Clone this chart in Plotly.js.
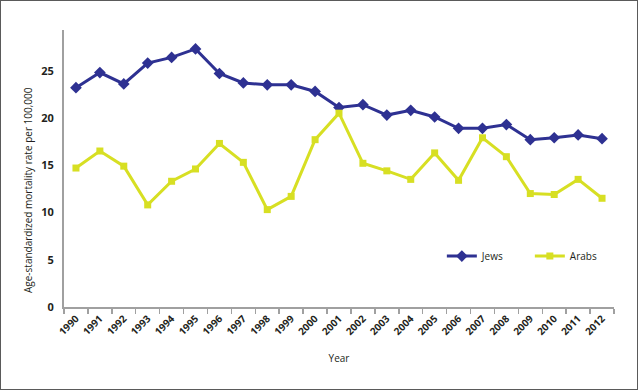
<!DOCTYPE html>
<html>
<head>
<meta charset="utf-8">
<script src="https://cdn.plot.ly/plotly-3.0.1.min.js"></script>
<style>
html,body{margin:0;padding:0;background:#fff;}
#wrap{width:638px;height:390px;box-sizing:border-box;border:1px solid #5a5a5a;position:relative;overflow:hidden;}
#chart{position:absolute;left:-1px;top:-1px;width:638px;height:390px;}
</style>
</head>
<body>
<div id="wrap"><div id="chart"></div></div>
<script>
const years = ['1990','1991','1992','1993','1994','1995','1996','1997','1998','1999','2000','2001','2002','2003','2004','2005','2006','2007','2008','2009','2010','2011','2012'];
const jews = [23.2,24.8,23.6,25.8,26.4,27.3,24.7,23.7,23.5,23.5,22.8,21.1,21.4,20.3,20.8,20.1,18.9,18.9,19.3,17.7,17.9,18.2,17.8];
const arabs = [14.7,16.5,14.9,10.8,13.3,14.6,17.3,15.3,10.3,11.7,17.7,20.5,15.2,14.4,13.5,16.3,13.4,17.9,15.9,12.0,11.9,13.5,11.5];
const yTicks = [0,5,10,15,20,25];

const navy = '#2e3192';
const yellow = '#d7df23';
const font = '"Open Sans", "Noto Sans", sans-serif';

const traces = [
  {x: years, y: jews, name: 'Jews', type: 'scatter', mode: 'lines+markers',
   line: {color: navy, width: 3}, marker: {symbol: 'diamond', size: 9, color: navy}},
  {x: years, y: arabs, name: 'Arabs', type: 'scatter', mode: 'lines+markers',
   line: {color: yellow, width: 3}, marker: {symbol: 'square', size: 7, color: yellow}}
];

const layout = {
  width: 638, height: 390,
  margin: {l: 64, r: 24, t: 30, b: 83, autoexpand: false},
  paper_bgcolor: '#fff', plot_bgcolor: '#fff',
  font: {family: font, color: '#231f20'},
  showlegend: true,
  legend: {orientation: 'h', x: 0.687, xanchor: 'left', y: 0.184, yanchor: 'middle',
           entrywidth: 43, font: {size: 10, family: font, color: '#231f20'}, bgcolor: 'rgba(0,0,0,0)'},
  xaxis: {type: 'category', range: [-0.5, 22.5], tickson: 'boundaries', ticks: 'outside', ticklen: 5,
          tickcolor: '#a0a0a0', tickwidth: 1.5, showline: true, linecolor: '#a0a0a0', linewidth: 2,
          showgrid: false, zeroline: false, tickangle: -45, automargin: false,
          tickfont: {size: 10, family: font, weight: 'bold', color: '#231f20'},
          title: {text: 'Year', font: {size: 10, family: font, color: '#231f20'}, standoff: 18}},
  yaxis: {range: [0, 29.3], tickvals: yTicks, ticktext: yTicks.map(String), ticks: '',
          showline: true, linecolor: '#a0a0a0', linewidth: 2, showgrid: false, zeroline: false,
          ticklabelstandoff: 6, automargin: false,
          tickfont: {size: 11, family: font, weight: 'bold', color: '#231f20'}},
  annotations: [{text: 'Age-standardized mortality rate per 100,000', textangle: -90,
                 xref: 'paper', yref: 'paper', x: (28 - 64) / 550, y: (307 - 190) / 277,
                 xanchor: 'center', yanchor: 'middle', showarrow: false,
                 font: {size: 10, family: font, color: '#231f20'}}]
};

Plotly.newPlot('chart', traces, layout, {displayModeBar: false, staticPlot: true});
</script>
</body>
</html>
